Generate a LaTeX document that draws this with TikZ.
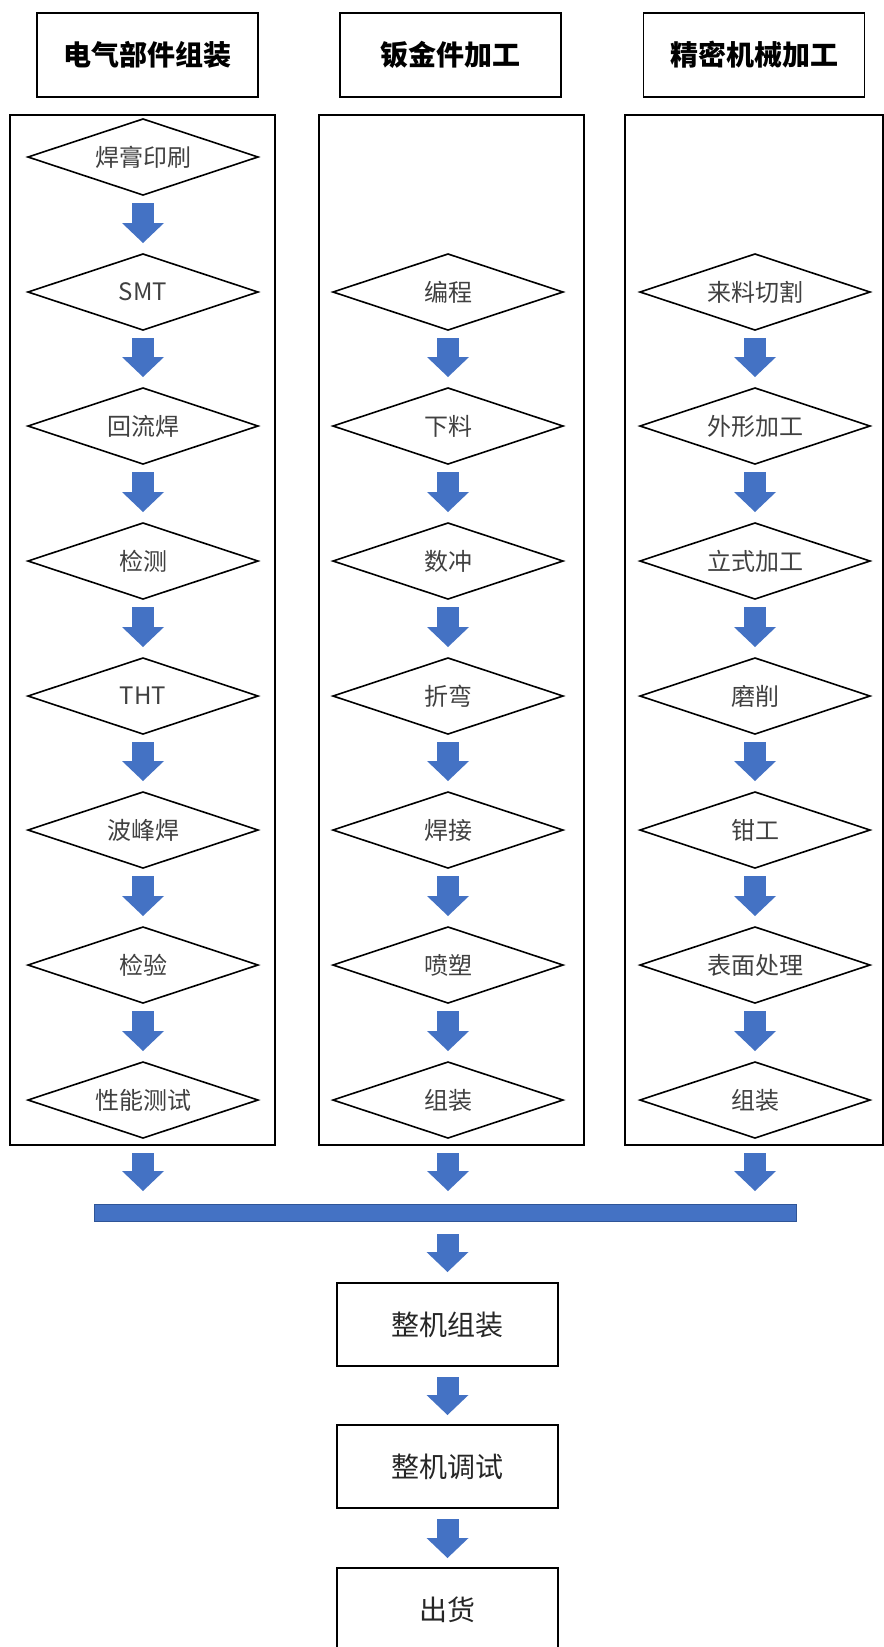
\documentclass[tikz,border=0pt]{standalone}
\usepackage{fontspec}
\setmainfont{Noto Sans CJK SC}
\usetikzlibrary{shapes.geometric, arrows.meta}
\definecolor{flowblue}{HTML}{4472C4}
\definecolor{flowedge}{HTML}{2F5597}
\definecolor{stepgray}{HTML}{404040}
\definecolor{boxtext}{HTML}{262626}

\tikzset{
  procstep/.style={diamond, aspect=3, draw, line width=1.2pt, inner sep=0pt,
    outer sep=0pt, minimum width=172.5pt, minimum height=57pt, text=stepgray,
    font=\fontsize{18}{20}\selectfont},
  headbox/.style={rectangle, draw, line width=1.2pt,
    minimum width=165.75pt, minimum height=63pt,
    font=\fontsize{21}{24}\selectfont\bfseries},
  colbox/.style={rectangle, draw, line width=1.2pt, outer sep=0pt,
    minimum height=772.5pt},
  finalbox/.style={rectangle, draw, line width=1.2pt, outer sep=0pt,
    minimum width=165.75pt, minimum height=62.25pt, text=boxtext,
    font=\fontsize{21}{24}\selectfont},
  flowarrow/.style={draw=flowblue, line width=16.5pt,
    -{Triangle[width=31.5pt, length=15pt, line width=0pt]},
    shorten <=6pt, shorten >=8.25pt},
}

\begin{document}
\begin{tikzpicture}[x=0.75pt,y=0.75pt,yscale=-1,xscale=1]
\clip (0,0) rectangle (884,1647);

%Shape: Rectangle (headers)
\node[headbox] (hElec) at (147.5,55) {电气部件组装};
\node[headbox] (hSheet) at (450.5,55) {钣金件加工};
\node[headbox] (hMach) at (754,55) {精密机械加工};

%Shape: Rectangle (columns)
\node[colbox, minimum width=198.75pt] (colElec) at (142.5,630) {};
\node[colbox, minimum width=198.75pt] (colSheet) at (451.5,630) {};
\node[colbox, minimum width=193.5pt] (colMach) at (754,630) {};

%Shape: Diamond (electric parts)
\node[procstep] (elec1) at (143,157) {焊膏印刷};
\node[procstep] (elec2) at (143,292) {SMT};
\node[procstep] (elec3) at (143,426) {回流焊};
\node[procstep] (elec4) at (143,561) {检测};
\node[procstep] (elec5) at (143,696) {THT};
\node[procstep] (elec6) at (143,830) {波峰焊};
\node[procstep] (elec7) at (143,965) {检验};
\node[procstep] (elec8) at (143,1100) {性能测试};

%Shape: Diamond (sheet metal)
\node[procstep] (sheet2) at (448,292) {编程};
\node[procstep] (sheet3) at (448,426) {下料};
\node[procstep] (sheet4) at (448,561) {数冲};
\node[procstep] (sheet5) at (448,696) {折弯};
\node[procstep] (sheet6) at (448,830) {焊接};
\node[procstep] (sheet7) at (448,965) {喷塑};
\node[procstep] (sheet8) at (448,1100) {组装};

%Shape: Diamond (precision machining)
\node[procstep] (mach2) at (755,292) {来料切割};
\node[procstep] (mach3) at (755,426) {外形加工};
\node[procstep] (mach4) at (755,561) {立式加工};
\node[procstep] (mach5) at (755,696) {磨削};
\node[procstep] (mach6) at (755,830) {钳工};
\node[procstep] (mach7) at (755,965) {表面处理};
\node[procstep] (mach8) at (755,1100) {组装};

%Shape: Rectangle (bar)
\node[rectangle, fill=flowblue, draw=flowedge, line width=0.4pt, outer sep=0pt,
  minimum width=526.5pt, minimum height=12.75pt, inner sep=0pt] (bar) at (445,1212.5) {};

%Shape: Rectangle (final steps)
\node[finalbox] (assy) at (447.5,1324.5) {整机组装};
\node[finalbox] (tune) at (447.5,1466.5) {整机调试};
\node[finalbox] (ship) at (447.5,1609.5) {出货};

%Block Arrows
\draw[flowarrow] (elec1) -- (elec2);
\draw[flowarrow] (elec2) -- (elec3);
\draw[flowarrow] (elec3) -- (elec4);
\draw[flowarrow] (elec4) -- (elec5);
\draw[flowarrow] (elec5) -- (elec6);
\draw[flowarrow] (elec6) -- (elec7);
\draw[flowarrow] (elec7) -- (elec8);
\draw[flowarrow] (sheet2) -- (sheet3);
\draw[flowarrow] (sheet3) -- (sheet4);
\draw[flowarrow] (sheet4) -- (sheet5);
\draw[flowarrow] (sheet5) -- (sheet6);
\draw[flowarrow] (sheet6) -- (sheet7);
\draw[flowarrow] (sheet7) -- (sheet8);
\draw[flowarrow] (mach2) -- (mach3);
\draw[flowarrow] (mach3) -- (mach4);
\draw[flowarrow] (mach4) -- (mach5);
\draw[flowarrow] (mach5) -- (mach6);
\draw[flowarrow] (mach6) -- (mach7);
\draw[flowarrow] (mach7) -- (mach8);

\draw[flowarrow, shorten >=9.75pt] (elec8 |- colElec.south) -- (elec8 |- bar.north);
\draw[flowarrow, shorten >=9.75pt] (sheet8 |- colSheet.south) -- (sheet8 |- bar.north);
\draw[flowarrow, shorten >=9.75pt] (mach8 |- colMach.south) -- (mach8 |- bar.north);
\draw[flowarrow, shorten <=9.75pt] (assy |- bar.south) -- (assy.north);
\draw[flowarrow, shorten <=8.25pt, shorten >=7.5pt] (assy) -- (tune);
\draw[flowarrow, shorten <=8.25pt, shorten >=7.5pt] (tune) -- (ship);

\end{tikzpicture}
\end{document}
